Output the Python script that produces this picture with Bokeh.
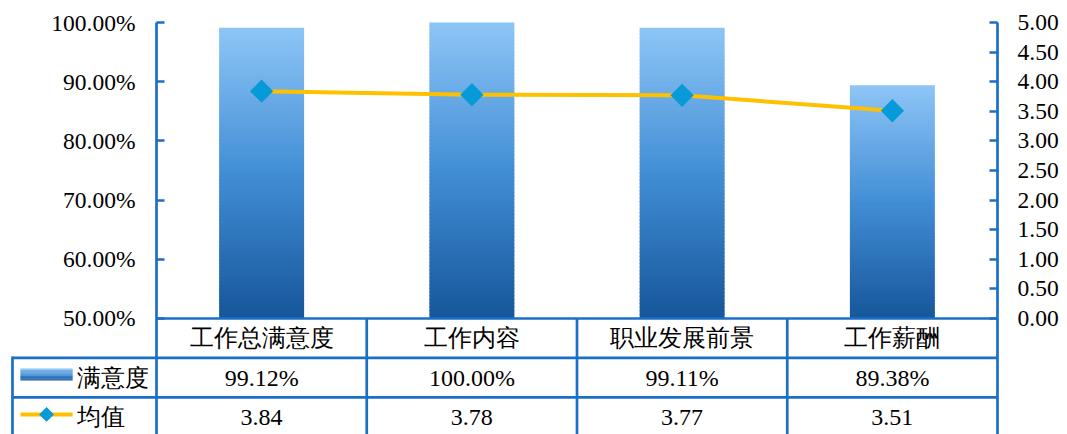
import numpy as np
from bokeh.plotting import figure
from bokeh.models import Range1d, LinearAxis, NumeralTickFormatter, FixedTicker, Label
from bokeh.embed import file_html
from bokeh.resources import INLINE

# ---------------- data ----------------
categories = ["工作总满意度", "工作内容", "职业发展前景", "工作薪酬"]
satisfaction = [0.9912, 1.0000, 0.9911, 0.8938]
mean_values = [3.84, 3.78, 3.77, 3.51]
satisfaction_labels = ["99.12%", "100.00%", "99.11%", "89.38%"]
mean_labels = ["3.84", "3.78", "3.77", "3.51"]
series_names = ["满意度", "均值"]
left_ticks = [0.5, 0.6, 0.7, 0.8, 0.9, 1.0]
right_ticks = [0.0, 0.5, 1.0, 1.5, 2.0, 2.5, 3.0, 3.5, 4.0, 4.5, 5.0]

# ---------------- styles ----------------
FONT = "Liberation Serif"
FS = "23.5px"
FS_T = "24px"
BLUE = "#1B6FC8"
LINE_C = "#FFC000"
MARK_C = "#069BD8"
LW = 2.7
STOPS = [(0.0, (22, 86, 154)), (0.5, (66, 142, 214)), (1.0, (142, 197, 246))]


def grad(t):
    for (t0, c0), (t1, c1) in zip(STOPS[:-1], STOPS[1:]):
        if t <= t1:
            f = (t - t0) / (t1 - t0)
            c = [round(a + (b - a) * f) for a, b in zip(c0, c1)]
            return "#%02x%02x%02x" % tuple(c)
    return "#%02x%02x%02x" % STOPS[-1][1]


# Frame covers the chart plus the data table below it (and the legend column at left).
LEGEND_X = -0.6944
Y_LO, Y_HI = 0.30405, 1.02872
M_LO, M_HI = -1.95946, 5.28716
T_LO, T_HI = 10.4392, -0.43074   # table rows: one unit per row, chart bottom = 7.5

p = figure(x_range=Range1d(LEGEND_X, 4), y_range=Range1d(Y_LO, Y_HI),
           frame_width=987, frame_height=429,
           min_border_left=10, min_border_right=70, min_border_top=5, min_border_bottom=0,
           x_axis_location=None, y_axis_location=None,
           output_backend="svg", toolbar_location=None)
p.extra_y_ranges = {"mean": Range1d(M_LO, M_HI), "table": Range1d(T_LO, T_HI)}
p.outline_line_color = None
p.xgrid.visible = False
p.ygrid.visible = False

# ---- gradient bars ----
N = 80
xs, bots, tops, cols = [], [], [], []
for i, v in enumerate(satisfaction):
    h = (v - 0.5) / N
    for k in range(N):
        xs.append(i + 0.5)
        bots.append(0.5 + h * k)
        tops.append(min(v, 0.5 + h * (k + 1) + h * 0.3))
        cols.append(grad((k + 0.5) / N))
p.vbar(x=xs, bottom=bots, top=tops, width=0.404, fill_color=cols, line_color=None)

# ---- line + markers ----
xc = [i + 0.5 for i in range(len(categories))]
p.line(x=xc, y=mean_values, y_range_name="mean", line_color=LINE_C, line_width=4)
p.scatter(x=xc, y=mean_values, y_range_name="mean", marker="square",
          angle=np.pi / 4, size=16.5, fill_color=MARK_C, line_color=None)

# ---- axes ----
la = LinearAxis(ticker=FixedTicker(ticks=left_ticks),
                formatter=NumeralTickFormatter(format="0.00%"),
                fixed_location=0, bounds=(Y_LO, 1.0))
ra = LinearAxis(y_range_name="mean", ticker=FixedTicker(ticks=right_ticks),
                formatter=NumeralTickFormatter(format="0.00"), bounds=(M_LO, 5.0))
p.add_layout(la, "left")
p.add_layout(ra, "right")
for a in (la, ra):
    a.axis_line_color = BLUE
    a.axis_line_width = LW
    a.major_tick_line_color = BLUE
    a.major_tick_line_width = LW
    a.major_tick_in = 8
    a.major_tick_out = 0
    a.minor_tick_line_color = None
    a.major_label_text_font = FONT
    a.major_label_text_font_size = FS
    a.major_label_text_color = "black"
la.major_label_standoff = 21
ra.major_label_standoff = 20

# ---- data table ----
legend_left = -0.685
row_edges = [7.5, 8.5, 9.5, 10.6]
p.segment(x0=[0, legend_left, legend_left], y0=row_edges[:3],
          x1=[4, 4, 4], y1=row_edges[:3],
          y_range_name="table", line_color=BLUE, line_width=LW)
p.segment(x0=[1, 2, 3, legend_left], y0=[row_edges[0]] * 3 + [row_edges[1] - 0.035],
          x1=[1, 2, 3, legend_left], y1=[row_edges[3]] * 4,
          y_range_name="table", line_color=BLUE, line_width=LW)

row_mid = [8.0, 9.0, 10.0]


def cell_text(x, y, txt, align="center"):
    p.add_layout(Label(x=x, y=y, y_range_name="table", text=txt, text_font=FONT,
                       text_font_size=FS_T, text_align=align, text_baseline="middle",
                       text_color="black"))


for i in range(len(categories)):
    cell_text(xc[i], row_mid[0], categories[i])
    cell_text(xc[i], row_mid[1], satisfaction_labels[i])
    cell_text(xc[i], row_mid[2], mean_labels[i])
for name, y in zip(series_names, row_mid[1:]):
    cell_text(-0.376, y, name, align="left")

# legend swatch for bars (gradient)
SW = 14
sw_top, sw_bot = 8.77, 9.07
lefts, rights, sbots, stops_, scols = [], [], [], [], []
for k in range(SW):
    b = sw_bot - (sw_bot - sw_top) * k / SW
    t = sw_bot - (sw_bot - sw_top) * (k + 1.3) / SW
    lefts.append(-0.647); rights.append(-0.399)
    sbots.append(b); stops_.append(max(t, sw_top)); scols.append(grad((k + 0.5) / SW))
p.quad(left=lefts, right=rights, bottom=sbots, top=stops_, y_range_name="table",
       fill_color=scols, line_color=None)
# legend line + diamond
ly = 9.93
p.segment(x0=[-0.647], y0=[ly], x1=[-0.399], y1=[ly], y_range_name="table",
          line_color=LINE_C, line_width=4)
p.scatter(x=[-0.523], y=[ly], y_range_name="table", marker="square", angle=np.pi / 4,
          size=10.5, fill_color=MARK_C, line_color=None)

open("out.html", "w").write(file_html(p, INLINE))
